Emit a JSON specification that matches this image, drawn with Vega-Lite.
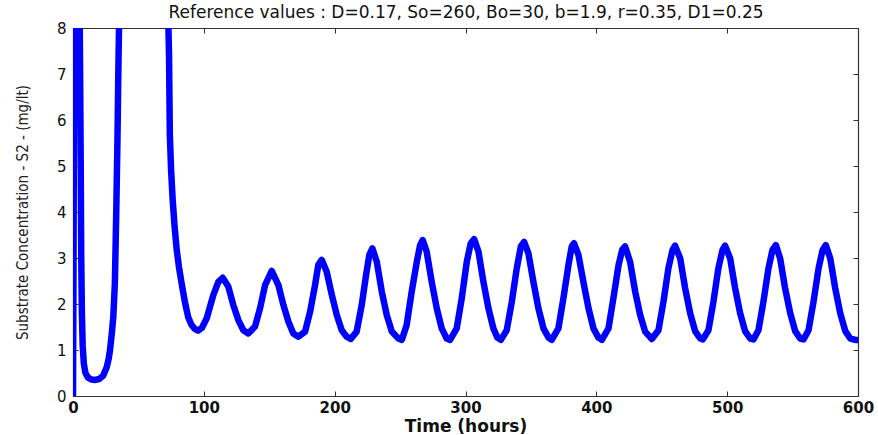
{
  "$schema": "https://vega.github.io/schema/vega-lite/v6.json",
  "width": 785,
  "height": 368,
  "autosize": {"type": "none"},
  "padding": {"left": 73, "top": 28, "right": 20, "bottom": 39},
  "background": "white",
  "config": {
    "view": {"stroke": "#333333", "strokeWidth": 1},
    "axis": {"grid": false, "domainColor": "#333333", "domainWidth": 1.2, "tickColor": "#333333", "tickSize": -5, "labelColor": "#111111"}
  },
  "data": {
    "values": [
      {"t": 0, "S2": 0}, {"t": 0.4, "S2": 3}, {"t": 0.8, "S2": 7}, {"t": 1.4, "S2": 9.5}, {"t": 3, "S2": 11}, {"t": 4.7, "S2": 9.5},
      {"t": 5.4, "S2": 7.2}, {"t": 5.9, "S2": 5}, {"t": 6.3, "S2": 3}, {"t": 6.8, "S2": 1.8}, {"t": 7.4, "S2": 1.1}, {"t": 8.3, "S2": 0.7},
      {"t": 9.5, "S2": 0.5}, {"t": 11.5, "S2": 0.4}, {"t": 14, "S2": 0.36}, {"t": 17, "S2": 0.35}, {"t": 20, "S2": 0.37}, {"t": 23, "S2": 0.44},
      {"t": 25.7, "S2": 0.62}, {"t": 27.2, "S2": 0.8}, {"t": 28.3, "S2": 1.0}, {"t": 29.8, "S2": 1.4}, {"t": 30.8, "S2": 1.72}, {"t": 32, "S2": 2.45},
      {"t": 33, "S2": 3.9}, {"t": 34, "S2": 5.6}, {"t": 34.7, "S2": 7.16}, {"t": 35.5, "S2": 8.6}, {"t": 37, "S2": 11}, {"t": 45, "S2": 15},
      {"t": 60, "S2": 15}, {"t": 70, "S2": 11}, {"t": 72.5, "S2": 8.6}, {"t": 73.4, "S2": 7.4}, {"t": 74, "S2": 5.7}, {"t": 75, "S2": 4.9},
      {"t": 76.2, "S2": 4.26}, {"t": 77.6, "S2": 3.7}, {"t": 79.3, "S2": 3.17}, {"t": 81, "S2": 2.8}, {"t": 83, "S2": 2.45}, {"t": 85.5, "S2": 2.05},
      {"t": 88, "S2": 1.72}, {"t": 90.5, "S2": 1.55}, {"t": 93, "S2": 1.46}, {"t": 95.6, "S2": 1.42}, {"t": 98.5, "S2": 1.48}, {"t": 102.2, "S2": 1.69},
      {"t": 107.3, "S2": 2.2}, {"t": 111.1, "S2": 2.48}, {"t": 114.4, "S2": 2.57}, {"t": 118.7, "S2": 2.38}, {"t": 122.5, "S2": 1.98}, {"t": 126.4, "S2": 1.65},
      {"t": 130.2, "S2": 1.43}, {"t": 134, "S2": 1.36}, {"t": 139.1, "S2": 1.51}, {"t": 143, "S2": 1.91}, {"t": 146.8, "S2": 2.41}, {"t": 151.9, "S2": 2.72},
      {"t": 157, "S2": 2.41}, {"t": 160.8, "S2": 1.98}, {"t": 164.6, "S2": 1.62}, {"t": 168.4, "S2": 1.36}, {"t": 172.3, "S2": 1.29}, {"t": 177.4, "S2": 1.4},
      {"t": 181.2, "S2": 1.83}, {"t": 185, "S2": 2.41}, {"t": 187.5, "S2": 2.85}, {"t": 190.1, "S2": 2.96}, {"t": 193.9, "S2": 2.7}, {"t": 197.8, "S2": 2.2},
      {"t": 201.6, "S2": 1.76}, {"t": 205.4, "S2": 1.43}, {"t": 209.2, "S2": 1.29}, {"t": 212.3, "S2": 1.24}, {"t": 216.8, "S2": 1.4}, {"t": 220.7, "S2": 1.98},
      {"t": 224, "S2": 2.63}, {"t": 226.5, "S2": 3.07}, {"t": 228.8, "S2": 3.21}, {"t": 232.2, "S2": 2.92}, {"t": 236, "S2": 2.27}, {"t": 239.8, "S2": 1.76},
      {"t": 243.7, "S2": 1.4}, {"t": 248.7, "S2": 1.25}, {"t": 251.3, "S2": 1.22}, {"t": 255, "S2": 1.54}, {"t": 258.9, "S2": 2.27}, {"t": 262.8, "S2": 2.92},
      {"t": 265.3, "S2": 3.28}, {"t": 267.3, "S2": 3.39}, {"t": 270.3, "S2": 3.14}, {"t": 274.2, "S2": 2.48}, {"t": 278, "S2": 1.91}, {"t": 281.8, "S2": 1.47},
      {"t": 285.6, "S2": 1.25}, {"t": 288.2, "S2": 1.22}, {"t": 293.3, "S2": 1.47}, {"t": 297.1, "S2": 2.12}, {"t": 301, "S2": 2.92}, {"t": 304, "S2": 3.32},
      {"t": 306.6, "S2": 3.41}, {"t": 309.9, "S2": 3.14}, {"t": 313.7, "S2": 2.48}, {"t": 317.5, "S2": 1.91}, {"t": 321.3, "S2": 1.47}, {"t": 324.4, "S2": 1.27},
      {"t": 327, "S2": 1.22}, {"t": 331.5, "S2": 1.43}, {"t": 335.4, "S2": 2.05}, {"t": 339.2, "S2": 2.78}, {"t": 342.3, "S2": 3.25}, {"t": 344.8, "S2": 3.35},
      {"t": 348.1, "S2": 3.1}, {"t": 351.9, "S2": 2.48}, {"t": 355.7, "S2": 1.91}, {"t": 359.6, "S2": 1.47}, {"t": 363.4, "S2": 1.27}, {"t": 365.9, "S2": 1.22},
      {"t": 371, "S2": 1.47}, {"t": 374.8, "S2": 2.12}, {"t": 378.7, "S2": 2.85}, {"t": 381.2, "S2": 3.25}, {"t": 383, "S2": 3.32}, {"t": 386.3, "S2": 3.07},
      {"t": 390.1, "S2": 2.48}, {"t": 394, "S2": 1.91}, {"t": 397.8, "S2": 1.47}, {"t": 401.6, "S2": 1.27}, {"t": 404.2, "S2": 1.22}, {"t": 409.3, "S2": 1.47},
      {"t": 413, "S2": 2.12}, {"t": 417, "S2": 2.85}, {"t": 419.8, "S2": 3.18}, {"t": 422, "S2": 3.25}, {"t": 425.8, "S2": 2.92}, {"t": 429.7, "S2": 2.27},
      {"t": 433.5, "S2": 1.76}, {"t": 437.3, "S2": 1.4}, {"t": 442.4, "S2": 1.24}, {"t": 447.5, "S2": 1.43}, {"t": 451.3, "S2": 2.05}, {"t": 455.1, "S2": 2.78},
      {"t": 458.2, "S2": 3.17}, {"t": 460.2, "S2": 3.27}, {"t": 464.1, "S2": 2.99}, {"t": 467.9, "S2": 2.34}, {"t": 471.7, "S2": 1.8}, {"t": 475.5, "S2": 1.41},
      {"t": 479.4, "S2": 1.25}, {"t": 481.4, "S2": 1.23}, {"t": 485.7, "S2": 1.43}, {"t": 489.5, "S2": 2.05}, {"t": 493.3, "S2": 2.78}, {"t": 496.4, "S2": 3.17},
      {"t": 498.4, "S2": 3.27}, {"t": 502.3, "S2": 2.99}, {"t": 506.1, "S2": 2.34}, {"t": 509.9, "S2": 1.8}, {"t": 513.7, "S2": 1.41}, {"t": 517.6, "S2": 1.25},
      {"t": 520.1, "S2": 1.23}, {"t": 523.9, "S2": 1.43}, {"t": 527.7, "S2": 2.05}, {"t": 531.6, "S2": 2.78}, {"t": 534.6, "S2": 3.17}, {"t": 537.2, "S2": 3.28},
      {"t": 540.5, "S2": 2.99}, {"t": 544.3, "S2": 2.34}, {"t": 548.2, "S2": 1.8}, {"t": 552, "S2": 1.41}, {"t": 555.8, "S2": 1.25}, {"t": 558.4, "S2": 1.23},
      {"t": 562.2, "S2": 1.43}, {"t": 566, "S2": 2.05}, {"t": 569.9, "S2": 2.78}, {"t": 572.9, "S2": 3.17}, {"t": 575.4, "S2": 3.28}, {"t": 578.8, "S2": 2.99},
      {"t": 582.6, "S2": 2.34}, {"t": 586.4, "S2": 1.8}, {"t": 590.3, "S2": 1.41}, {"t": 594.1, "S2": 1.25}, {"t": 597.9, "S2": 1.22}, {"t": 600, "S2": 1.22}
    ]
  },
  "layer": [
    {
      "mark": {"type": "line", "color": "#0000FF", "strokeWidth": 6.5, "clip": true, "strokeJoin": "round", "strokeCap": "round"},
      "encoding": {
        "x": {
          "field": "t", "type": "quantitative",
          "scale": {"domain": [0, 600], "nice": false, "zero": false},
          "axis": {
            "orient": "bottom", "values": [0, 100, 200, 300, 400, 500, 600],
            "title": "Time (hours)", "titleFont": "DejaVu Sans", "titleFontSize": 17, "titleFontWeight": "bold", "titleColor": "#111111", "titlePadding": 3,
            "labelFont": "DejaVu Sans", "labelFontSize": 15, "labelFontWeight": "bold", "labelPadding": 9, "labelFlush": false
          }
        },
        "y": {
          "field": "S2", "type": "quantitative",
          "scale": {"domain": [0, 8], "nice": false, "zero": false},
          "axis": {
            "orient": "left", "values": [0, 1, 2, 3, 4, 5, 6, 7, 8],
            "title": "Substrate Concentration - S2 - (mg/lt)", "titleFont": "DejaVu Sans Condensed", "titleFontSize": 15, "titleFontWeight": "normal", "titleColor": "#222222", "titlePadding": 26,
            "labelFont": "DejaVu Sans", "labelFontSize": 15, "labelFontWeight": "normal", "labelPadding": 12, "labelFlush": false
          }
        }
      }
    },
    {
      "mark": {"type": "point", "opacity": 0, "clip": true},
      "encoding": {
        "x": {
          "field": "t", "type": "quantitative",
          "scale": {"domain": [0, 600], "nice": false, "zero": false},
          "axis": {
            "orient": "top", "values": [0, 100, 200, 300, 400, 500, 600], "labels": false,
            "title": "Reference values : D=0.17, So=260, Bo=30, b=1.9, r=0.35, D1=0.25",
            "titleFont": "DejaVu Sans", "titleFontSize": 17, "titleFontWeight": "normal", "titleColor": "#111111", "titlePadding": 6
          }
        },
        "y": {
          "field": "S2", "type": "quantitative",
          "scale": {"domain": [0, 8], "nice": false, "zero": false},
          "axis": {"orient": "right", "values": [0, 1, 2, 3, 4, 5, 6, 7, 8], "labels": false, "title": null}
        }
      }
    }
  ],
  "resolve": {"axis": {"x": "independent", "y": "independent"}}
}
